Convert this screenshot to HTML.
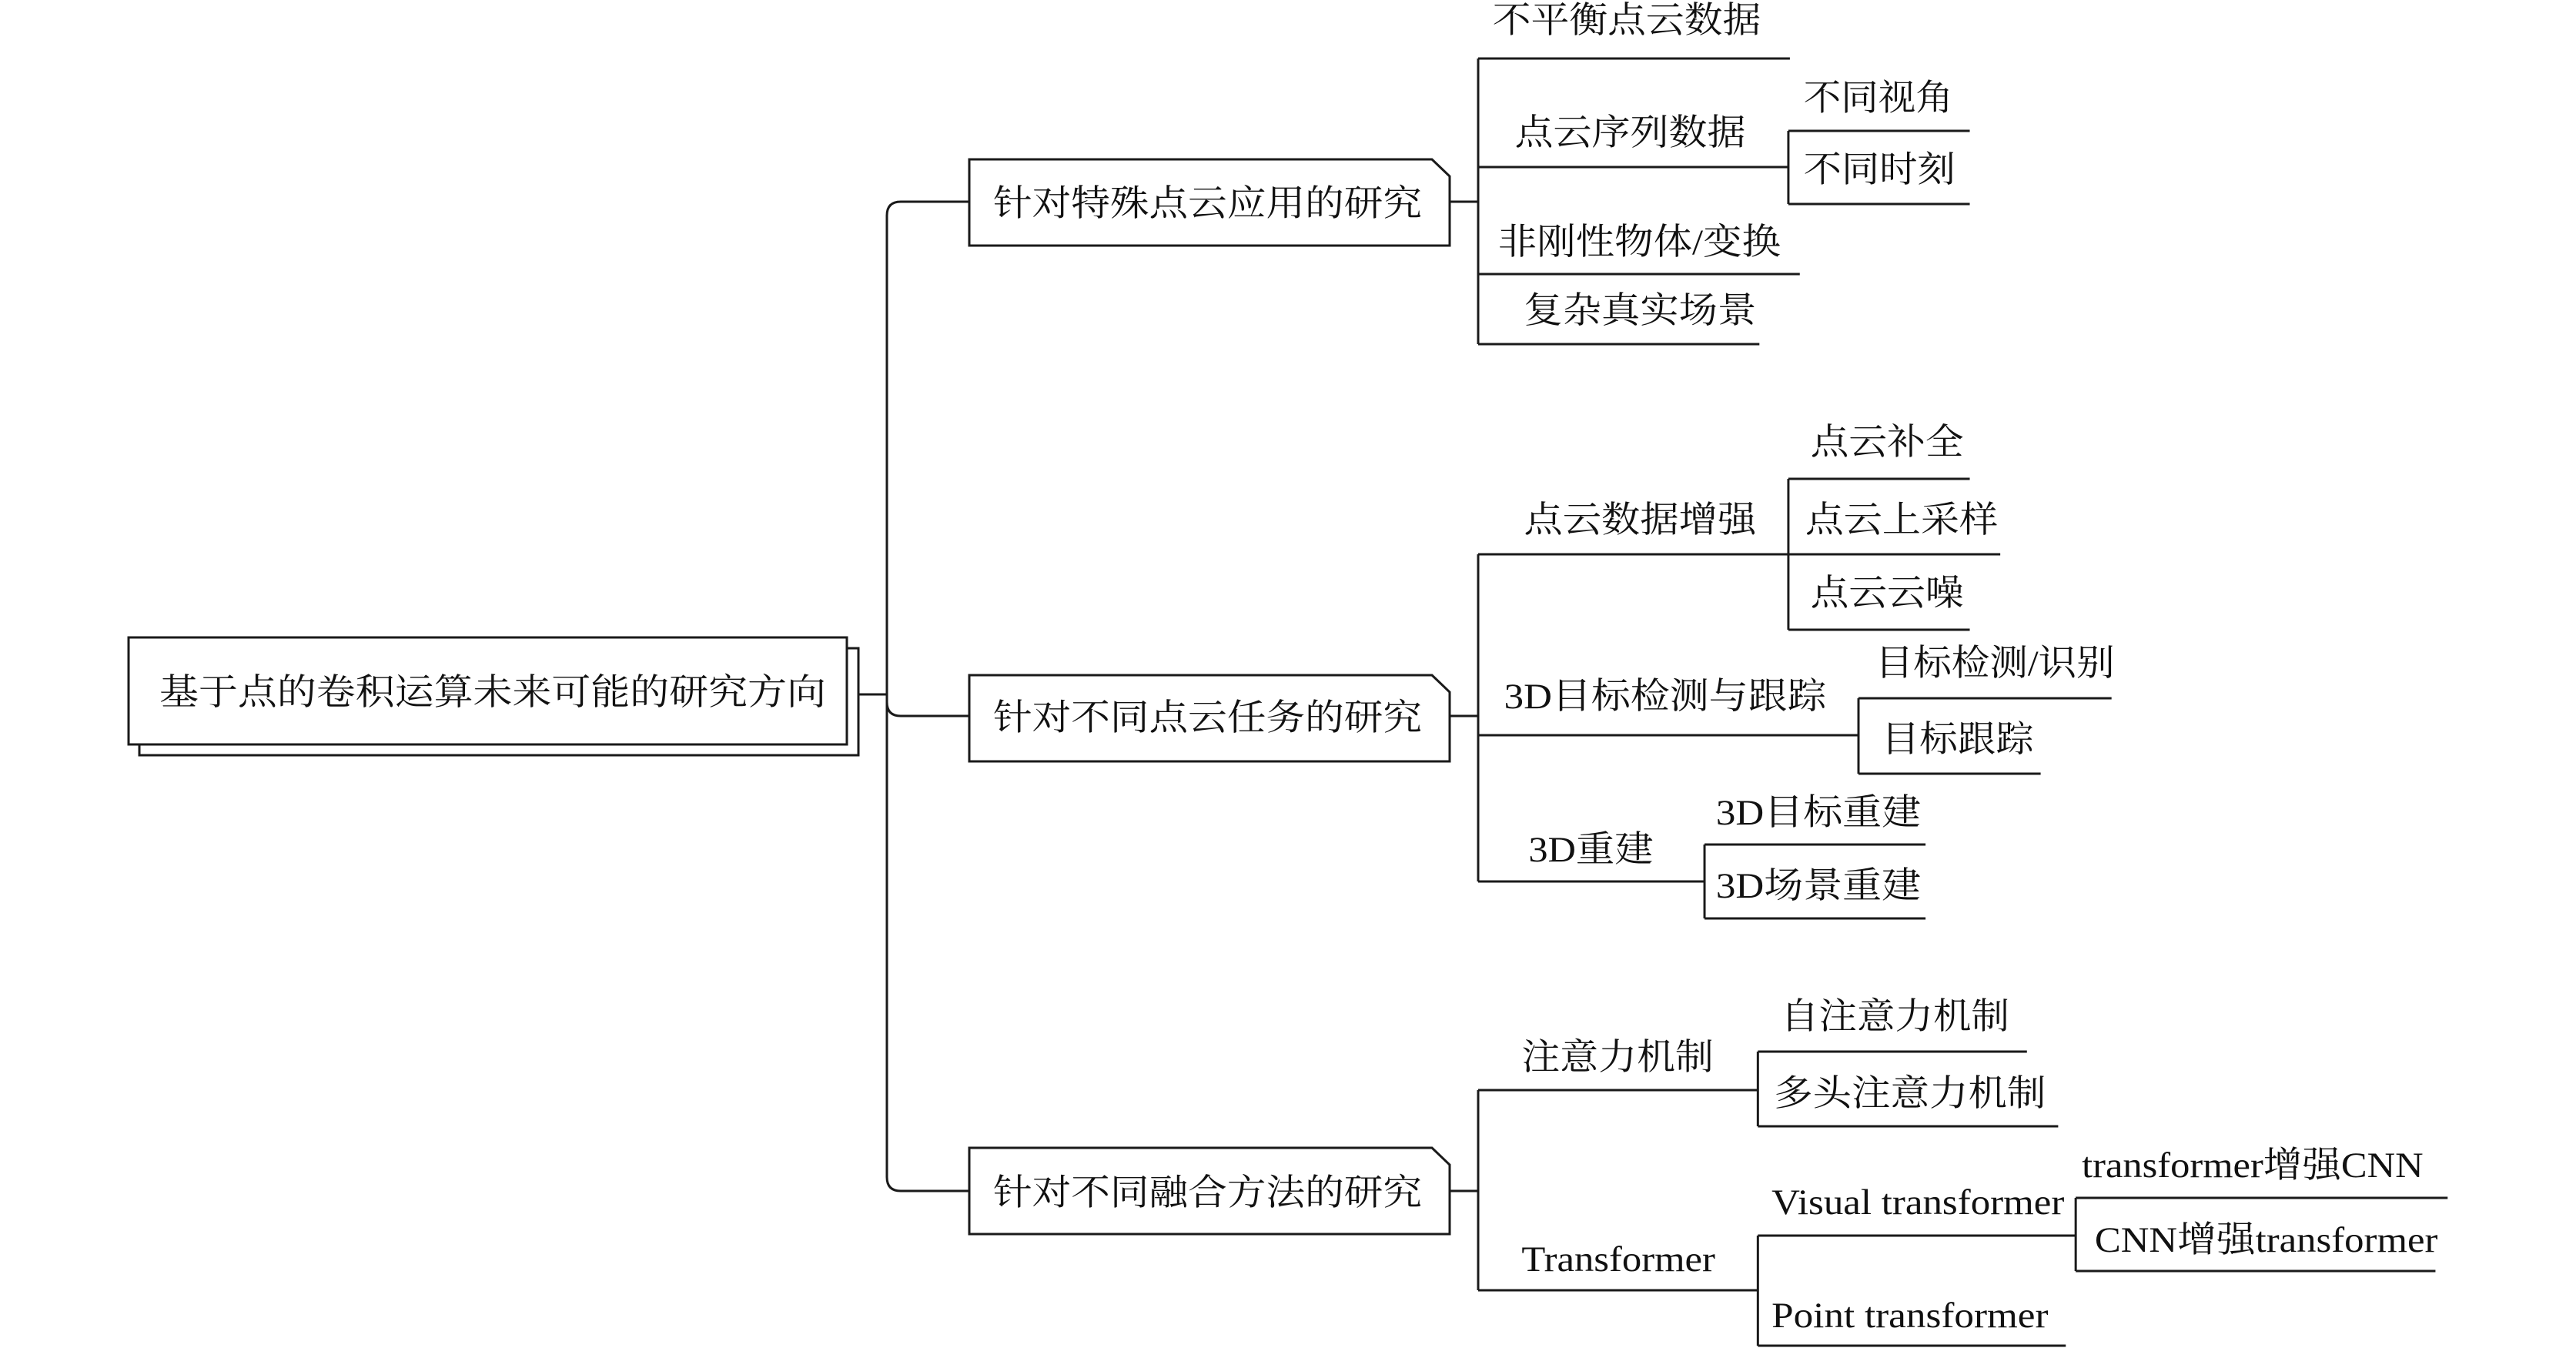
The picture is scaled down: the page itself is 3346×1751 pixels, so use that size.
<!DOCTYPE html>
<html><head><meta charset="utf-8"><style>
html,body{margin:0;padding:0;background:#fff;}
svg{display:block;}
text{font-family:"Liberation Serif","Noto Serif CJK SC",serif;font-size:47px;fill:#111;dominant-baseline:central;}
</style></head><body>
<svg width="3346" height="1751" viewBox="0 0 3346 1751" xmlns="http://www.w3.org/2000/svg">
<g fill="none" stroke="#1a1a1a" stroke-width="3">
<rect x="181" y="842" width="934" height="139" fill="#fff"/>
<rect x="167" y="828" width="933" height="139" fill="#fff"/>
<line x1="1115" y1="902" x2="1152" y2="902"/>
<path d="M1259 262 H1170 Q1152 262 1152 280 V1529 Q1152 1547 1170 1547 H1259"/>
<path d="M1152 912 Q1152 930 1170 930 H1259"/>
<path d="M1259 207 H1860 L1883 229 V319 H1259 Z" fill="#fff"/>
<path d="M1259 877 H1860 L1883 899 V989 H1259 Z" fill="#fff"/>
<path d="M1259 1491 H1860 L1883 1513 V1603 H1259 Z" fill="#fff"/>
<line x1="1883" y1="262" x2="1920" y2="262"/>
<line x1="1883" y1="930" x2="1920" y2="930"/>
<line x1="1883" y1="1547" x2="1920" y2="1547"/>
</g>
<g transform="translate(1920 0) scale(0.99 1) translate(-1920 0)">
<g fill="none" stroke="#1a1a1a" stroke-width="3">
<line x1="1920" y1="76" x2="1920" y2="447"/>
<line x1="1920" y1="76" x2="2329" y2="76"/>
<line x1="1920" y1="217" x2="2327" y2="217"/>
<line x1="2327" y1="170" x2="2327" y2="265"/>
<line x1="2327" y1="170" x2="2565" y2="170"/>
<line x1="2327" y1="265" x2="2565" y2="265"/>
<line x1="1920" y1="356" x2="2342" y2="356"/>
<line x1="1920" y1="447" x2="2289" y2="447"/>
<line x1="1920" y1="720" x2="1920" y2="1145"/>
<line x1="1920" y1="720" x2="2327" y2="720"/>
<line x1="2327" y1="622" x2="2327" y2="818"/>
<line x1="2327" y1="622" x2="2565" y2="622"/>
<line x1="2327" y1="720" x2="2605" y2="720"/>
<line x1="2327" y1="818" x2="2565" y2="818"/>
<line x1="1920" y1="955" x2="2419" y2="955"/>
<line x1="2419" y1="907" x2="2419" y2="1005"/>
<line x1="2419" y1="907" x2="2751" y2="907"/>
<line x1="2419" y1="1005" x2="2658" y2="1005"/>
<line x1="1920" y1="1145" x2="2217" y2="1145"/>
<line x1="2217" y1="1097" x2="2217" y2="1193"/>
<line x1="2217" y1="1097" x2="2507" y2="1097"/>
<line x1="2217" y1="1193" x2="2507" y2="1193"/>
<line x1="1920" y1="1416" x2="1920" y2="1676"/>
<line x1="1920" y1="1416" x2="2287" y2="1416"/>
<line x1="2287" y1="1366" x2="2287" y2="1463"/>
<line x1="2287" y1="1366" x2="2640" y2="1366"/>
<line x1="2287" y1="1463" x2="2681" y2="1463"/>
<line x1="1920" y1="1676" x2="2287" y2="1676"/>
<line x1="2287" y1="1605" x2="2287" y2="1748"/>
<line x1="2287" y1="1605" x2="2704" y2="1605"/>
<line x1="2704" y1="1556" x2="2704" y2="1651"/>
<line x1="2704" y1="1556" x2="3192" y2="1556"/>
<line x1="2704" y1="1651" x2="3176" y2="1651"/>
<line x1="2287" y1="1748" x2="2691" y2="1748"/>
</g>
<text x="1939" y="27" textLength="352" lengthAdjust="spacingAndGlyphs">不平衡点云数据</text>
<text x="1968" y="173" textLength="303" lengthAdjust="spacingAndGlyphs">点云序列数据</text>
<text x="2347" y="128" textLength="196" lengthAdjust="spacingAndGlyphs">不同视角</text>
<text x="2347" y="221" textLength="199" lengthAdjust="spacingAndGlyphs">不同时刻</text>
<text x="1946" y="315" textLength="371" lengthAdjust="spacingAndGlyphs">非刚性物体/变换</text>
<text x="1980" y="404" textLength="305" lengthAdjust="spacingAndGlyphs">复杂真实场景</text>
<text x="2356" y="575" textLength="201" lengthAdjust="spacingAndGlyphs">点云补全</text>
<text x="1980" y="676" textLength="305" lengthAdjust="spacingAndGlyphs">点云数据增强</text>
<text x="2349" y="676" textLength="253" lengthAdjust="spacingAndGlyphs">点云上采样</text>
<text x="2356" y="771" textLength="201" lengthAdjust="spacingAndGlyphs">点云云噪</text>
<text x="1954" y="905" textLength="423" lengthAdjust="spacingAndGlyphs">3D目标检测与跟踪</text>
<text x="2441" y="862" textLength="314" lengthAdjust="spacingAndGlyphs">目标检测/识别</text>
<text x="2449" y="961" textLength="200" lengthAdjust="spacingAndGlyphs">目标跟踪</text>
<text x="1986" y="1104" textLength="164" lengthAdjust="spacingAndGlyphs">3D重建</text>
<text x="2232" y="1056" textLength="269" lengthAdjust="spacingAndGlyphs">3D目标重建</text>
<text x="2232" y="1151" textLength="269" lengthAdjust="spacingAndGlyphs">3D场景重建</text>
<text x="1977" y="1374" textLength="252" lengthAdjust="spacingAndGlyphs">注意力机制</text>
<text x="2317" y="1321" textLength="300" lengthAdjust="spacingAndGlyphs">自注意力机制</text>
<text x="2308" y="1421" textLength="357" lengthAdjust="spacingAndGlyphs">多头注意力机制</text>
<text x="1977" y="1636" textLength="254" lengthAdjust="spacingAndGlyphs">Transformer</text>
<text x="2305" y="1562" textLength="384" lengthAdjust="spacingAndGlyphs">Visual transformer</text>
<text x="2712" y="1514" textLength="448" lengthAdjust="spacingAndGlyphs">transformer增强CNN</text>
<text x="2729" y="1611" textLength="450" lengthAdjust="spacingAndGlyphs">CNN增强transformer</text>
<text x="2305" y="1709" textLength="363" lengthAdjust="spacingAndGlyphs">Point transformer</text>
</g>
<text x="207" y="900" textLength="866" lengthAdjust="spacingAndGlyphs">基于点的卷积运算未来可能的研究方向</text>
<text x="1290" y="265" textLength="557" lengthAdjust="spacingAndGlyphs">针对特殊点云应用的研究</text>
<text x="1290" y="933" textLength="557" lengthAdjust="spacingAndGlyphs">针对不同点云任务的研究</text>
<text x="1290" y="1550" textLength="557" lengthAdjust="spacingAndGlyphs">针对不同融合方法的研究</text>
</svg>
</body></html>
